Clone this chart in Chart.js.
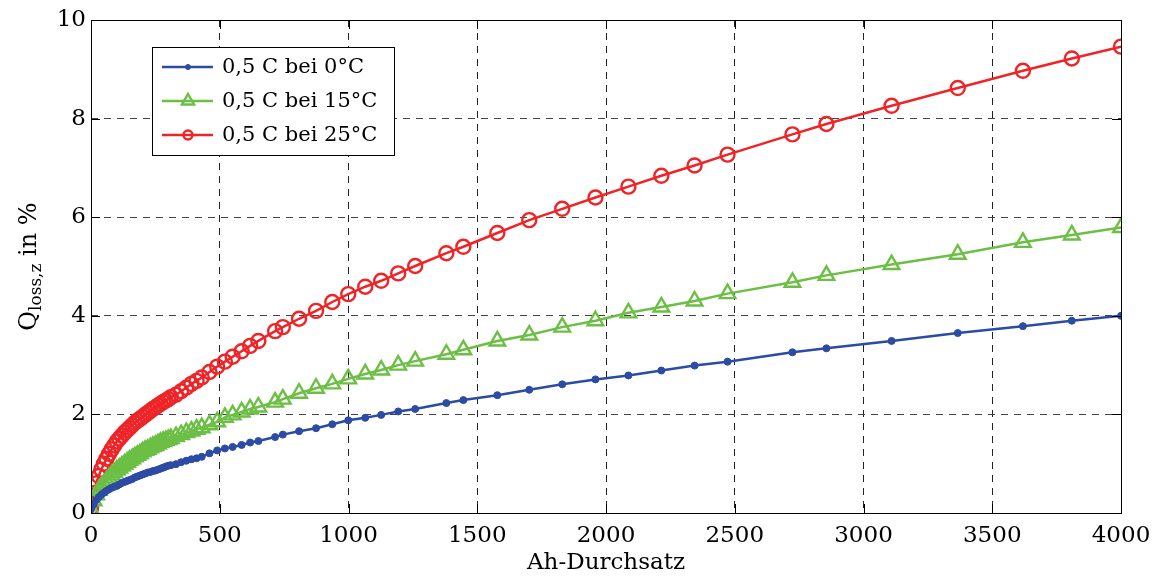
<!DOCTYPE html>
<html>
<head>
<meta charset="utf-8">
<script src="https://cdn.jsdelivr.net/npm/chart.js@4.4.1/dist/chart.umd.min.js"></script>
<style>
  html, body { margin: 0; padding: 0; background: #fff; }
</style>
</head>
<body>
<canvas id="chart" width="1160" height="577"></canvas>
<script>
// Ah-Durchsatz (x) und Kapazitaetsverlust Q_loss,z in % je Temperatur
var ah = [0, 10, 20, 30, 40, 50, 60, 70, 80, 90, 100, 110, 120, 130, 140, 150, 160, 170, 180, 190,
          200, 210, 220, 230, 240, 250, 260, 270, 280, 290, 300, 310,
          330, 350, 370, 390, 410, 430, 460, 490, 520, 550, 585, 618, 650, 715, 745,
          808, 874, 937, 999, 1065, 1127, 1193, 1259, 1380, 1446, 1578, 1702, 1830, 1959, 2087, 2215,
          2344, 2472, 2724, 2856, 3109, 3366, 3619, 3809, 4000];
var q0 = [0.07, 0.17, 0.26, 0.32, 0.37, 0.41, 0.45, 0.48, 0.51, 0.53, 0.55, 0.58, 0.61, 0.63, 0.65, 0.67, 0.69, 0.72, 0.74, 0.76,
          0.78, 0.80, 0.82, 0.83, 0.85, 0.86, 0.88, 0.90, 0.92, 0.94, 0.96, 0.97,
          0.99, 1.03, 1.06, 1.09, 1.11, 1.14, 1.21, 1.27, 1.31, 1.34, 1.38, 1.43, 1.46, 1.54, 1.59,
          1.66, 1.72, 1.80, 1.88, 1.93, 1.99, 2.06, 2.11, 2.23, 2.29, 2.39, 2.50, 2.61, 2.71, 2.79, 2.89,
          2.99, 3.07, 3.26, 3.34, 3.49, 3.65, 3.79, 3.90, 4.00];
var q15 = [0.07, 0.25, 0.37, 0.46, 0.53, 0.59, 0.65, 0.71, 0.77, 0.82, 0.87, 0.91, 0.95, 0.99, 1.03, 1.07, 1.10, 1.14, 1.17, 1.20,
           1.24, 1.27, 1.29, 1.32, 1.35, 1.37, 1.40, 1.43, 1.45, 1.47, 1.49, 1.51,
           1.55, 1.59, 1.63, 1.66, 1.70, 1.73, 1.79, 1.85, 1.94, 1.99, 2.05, 2.11, 2.15, 2.25, 2.31,
           2.43, 2.53, 2.62, 2.72, 2.82, 2.90, 3.00, 3.08, 3.22, 3.31, 3.49, 3.61, 3.77, 3.90, 4.06, 4.18,
           4.30, 4.45, 4.68, 4.82, 5.04, 5.25, 5.49, 5.64, 5.79];
var q25 = [0.10, 0.40, 0.60, 0.75, 0.88, 1.00, 1.10, 1.20, 1.29, 1.37, 1.45, 1.51, 1.57, 1.63, 1.68, 1.73, 1.78, 1.83, 1.87, 1.91,
           1.95, 1.99, 2.03, 2.07, 2.11, 2.14, 2.18, 2.21, 2.25, 2.28, 2.31, 2.35,
           2.40, 2.47, 2.54, 2.62, 2.68, 2.75, 2.86, 2.97, 3.07, 3.17, 3.28, 3.39, 3.49, 3.69, 3.77,
           3.94, 4.10, 4.28, 4.44, 4.59, 4.71, 4.86, 5.01, 5.27, 5.40, 5.68, 5.94, 6.17, 6.40, 6.62, 6.84,
           7.05, 7.27, 7.68, 7.89, 8.26, 8.62, 8.97, 9.22, 9.46];
var seriesNames = ["0,5 C bei 0°C", "0,5 C bei 15°C", "0,5 C bei 25°C"];

var FONT = "'DejaVu Serif', serif";

function pts(ys) {
  return ah.map(function (x, i) { return { x: x, y: ys[i] }; });
}

// Rahmen + kleine Tickstriche innen (MATLAB-Stil)
var framePlugin = {
  id: 'frame',
  afterDraw: function (chart) {
    var ctx = chart.ctx, a = chart.chartArea;
    var xs = chart.scales.x, ys = chart.scales.y;
    ctx.save();
    ctx.strokeStyle = '#000';
    ctx.lineWidth = 1;
    ctx.beginPath();
    xs.ticks.forEach(function (t) {
      var px = Math.round(xs.getPixelForValue(t.value)) + 0.5;
      ctx.moveTo(px, a.bottom); ctx.lineTo(px, a.bottom - 9);
      ctx.moveTo(px, a.top); ctx.lineTo(px, a.top + 9);
    });
    ys.ticks.forEach(function (t) {
      var py = Math.round(ys.getPixelForValue(t.value)) + 0.5;
      ctx.moveTo(a.left, py); ctx.lineTo(a.left + 9, py);
      ctx.moveTo(a.right, py); ctx.lineTo(a.right - 9, py);
    });
    ctx.stroke();
    ctx.strokeRect(Math.round(a.left) + 0.5, Math.round(a.top) + 0.5,
                   Math.round(a.right - a.left), Math.round(a.bottom - a.top));
    ctx.restore();
  }
};

// y-Achsentitel mit Index
var yTitlePlugin = {
  id: 'ytitle',
  afterDraw: function (chart) {
    var ctx = chart.ctx, a = chart.chartArea;
    var big = "24px " + FONT, small = "17px " + FONT;
    ctx.save();
    ctx.fillStyle = '#000';
    ctx.font = big; var wQ = ctx.measureText('Q').width;
    ctx.font = small; var wS = ctx.measureText('loss,z').width;
    ctx.font = big; var wR = ctx.measureText(' in %').width;
    var total = wQ + wS + wR;
    ctx.translate(36, (a.top + a.bottom) / 2);
    ctx.rotate(-Math.PI / 2);
    ctx.textBaseline = 'alphabetic';
    ctx.textAlign = 'left';
    var x0 = -total / 2;
    ctx.font = big; ctx.fillText('Q', x0, 0);
    ctx.font = small; ctx.fillText('loss,z', x0 + wQ, 5);
    ctx.font = big; ctx.fillText(' in %', x0 + wQ + wS, 0);
    ctx.restore();
  }
};

// Legende im Diagramm
var legendPlugin = {
  id: 'boxlegend',
  afterDraw: function (chart) {
    var ctx = chart.ctx;
    var bx = 152, by = 47, bw = 242, bh = 108;
    ctx.save();
    ctx.fillStyle = '#fff';
    ctx.fillRect(bx, by, bw, bh);
    ctx.strokeStyle = '#000';
    ctx.lineWidth = 1;
    ctx.strokeRect(bx + 0.5, by + 0.5, bw, bh);
    chart.data.datasets.forEach(function (ds, i) {
      var y = by + 20 + i * 34;
      ctx.strokeStyle = ds.borderColor;
      ctx.lineWidth = ds.borderWidth;
      ctx.beginPath(); ctx.moveTo(162, y); ctx.lineTo(213, y); ctx.stroke();
      ctx.lineWidth = ds.pointBorderWidth;
      ctx.fillStyle = ds.pointBackgroundColor;
      ctx.strokeStyle = ds.pointBorderColor;
      var r = ds.pointStyle === 'circle' && ds.pointRadius > 4 ? 4.5 : (ds.pointStyle === 'triangle' ? 7 : 2.5);
      Chart.helpers.drawPoint(ctx, { pointStyle: ds.pointStyle, radius: r, rotation: 0, borderWidth: ds.pointBorderWidth }, 188, y);
      ctx.fillStyle = '#000';
      ctx.font = "21px " + FONT;
      ctx.textBaseline = 'middle';
      ctx.fillText(ds.label, 222, y + 1);
    });
    ctx.restore();
  }
};

new Chart(document.getElementById('chart').getContext('2d'), {
  type: 'line',
  data: {
    datasets: [
      { label: seriesNames[0], data: pts(q0), borderColor: '#2B4BA5', borderWidth: 2.5,
        pointStyle: 'circle', pointRadius: 3.5, pointBorderWidth: 1,
        pointBackgroundColor: '#2B4BA5', pointBorderColor: '#2B4BA5' },
      { label: seriesNames[1], data: pts(q15), borderColor: '#6CBF45', borderWidth: 2.5,
        pointStyle: 'triangle', pointRadius: 9, pointBorderWidth: 2.4,
        pointBackgroundColor: 'rgba(255,255,255,0)', pointBorderColor: '#6CBF45' },
      { label: seriesNames[2], data: pts(q25), borderColor: '#EE2427', borderWidth: 2.5,
        pointStyle: 'circle', pointRadius: 7, pointBorderWidth: 2.4,
        pointBackgroundColor: 'rgba(255,255,255,0)', pointBorderColor: '#EE2427' }
    ]
  },
  options: {
    responsive: false,
    animation: false,
    layout: { padding: { left: 0, right: 39, top: 20, bottom: 0 } },
    plugins: {
      legend: { display: false },
      tooltip: { enabled: false }
    },
    scales: {
      x: {
        type: 'linear', min: 0, max: 4000,
        afterFit: function (s) { s.height = 64; },
        ticks: { stepSize: 500, color: '#000', padding: 9, maxRotation: 0,
                 font: { family: FONT, size: 23 },
                 callback: function (v) { return String(v); } },
        grid: { color: '#222', lineWidth: 1, drawTicks: false },
        border: { display: false, dash: [7, 6] },
        title: { display: true, text: 'Ah-Durchsatz', color: '#000',
                 font: { family: FONT, size: 23 }, padding: { top: 0, bottom: 0 } }
      },
      y: {
        min: 0, max: 10,
        afterFit: function (s) { s.width = 91; },
        ticks: { stepSize: 2, color: '#000', padding: 5,
                 font: { family: FONT, size: 23 },
                 callback: function (v) { return String(v); } },
        grid: { color: '#444', lineWidth: 1, drawTicks: false },
        border: { display: false, dash: [7, 6] }
      }
    }
  },
  plugins: [framePlugin, yTitlePlugin, legendPlugin]
});
</script>
</body>
</html>
